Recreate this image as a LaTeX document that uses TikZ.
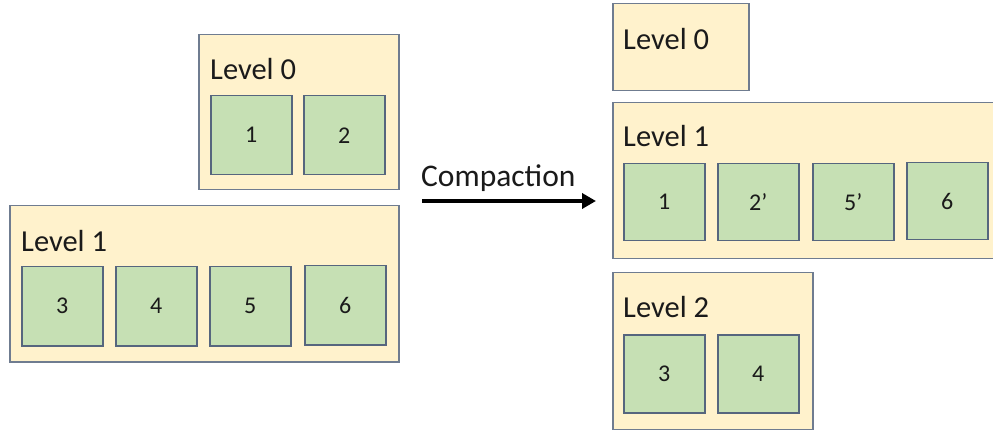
\documentclass[tikz,border=0pt]{standalone}
\usepackage{fontspec}
\setmainfont{Carlito}
\usetikzlibrary{arrows.meta}
\definecolor{levelfill}{HTML}{FFF2CC}
\definecolor{levelline}{HTML}{6F7C90}
\definecolor{sstfill}{HTML}{C6E0B4}
\definecolor{sstline}{HTML}{56667E}
\definecolor{ink}{HTML}{1A1A1A}
\tikzset{
  lvbox/.style={draw=levelline, fill=levelfill, line width=1.5pt, anchor=north west, inner sep=0pt},
  sst/.style={draw=sstline, fill=sstfill, line width=1.5pt, anchor=north west, inner sep=0pt,
    minimum width=81pt, minimum height=79pt, text=ink, font=\fontsize{24}{28}\selectfont},
  lvtext/.style={anchor=base west, inner sep=0pt, text=ink, font=\fontsize{30.5}{36}\selectfont},
}
\begin{document}
\begin{tikzpicture}[x=1pt, y=-1pt]
\clip (0,0) rectangle (993,430);
\fill[white] (0,0) rectangle (993,430);

% before compaction
\node[lvbox, minimum width=200pt, minimum height=155pt] (a0) at (198,34) {};
\node[lvtext] (a0t) at (210,80) {Level 0};
\node[sst] (s1) at (210,95) {1};
\node[sst] (s2) at (303,95) {2};

\node[lvbox, minimum width=389pt, minimum height=156pt] (a1) at (9,205) {};
\node[lvtext] (a1t) at (21,252) {Level 1};
\node[sst] (s3) at (21,266) {3};
\node[sst] (s4) at (115,266) {4};
\node[sst] (s5) at (209,266) {5};
\node[sst] (s6) at (304,265) {6};

% compaction arrow
\node[anchor=base west, inner sep=0pt, text=ink, font=\fontsize{31.5}{36}\selectfont] (ct) at (421,187) {Compaction};
\coordinate (ar0) at (422,201);
\coordinate (ar1) at (596,201);
\draw[line width=4pt, -{Triangle[length=14pt, width=15pt]}] (ar0) -- (ar1);

% after compaction
\node[lvbox, minimum width=136pt, minimum height=87pt] (b0) at (612,3) {};
\node[lvtext] (b0t) at (623,50) {Level 0};

\node[lvbox, minimum width=395pt, minimum height=156pt] (b1) at (612,102) {};
\node[lvtext] (b1t) at (623,147) {Level 1};
\node[sst, minimum height=77pt] (t1) at (623,163) {1};
\node[sst, minimum height=77pt] (t2) at (717,163) {2’};
\node[sst, minimum height=77pt] (t5) at (812,163) {5’};
\node[sst, minimum height=77pt] (t6) at (906,162) {6};

\node[lvbox, minimum width=200pt, minimum height=157pt] (b2) at (612,272) {};
\node[lvtext] (b2t) at (623,317) {Level 2};
\node[sst, minimum height=78pt] (t3) at (623,334) {3};
\node[sst, minimum height=78pt] (t4) at (717,334) {4};
\end{tikzpicture}
\end{document}
